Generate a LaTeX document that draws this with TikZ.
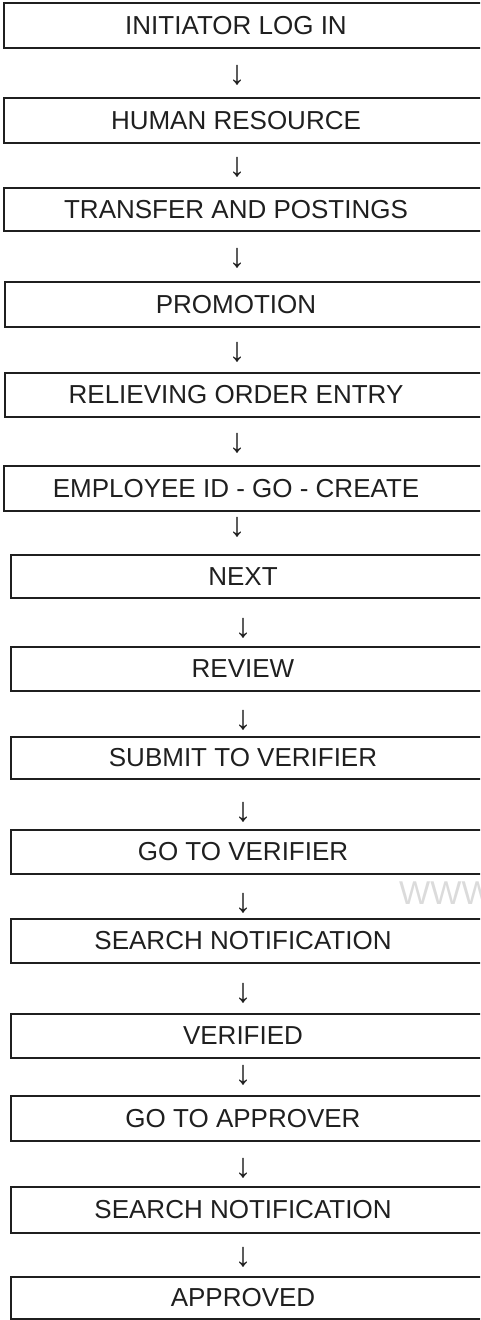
\documentclass[tikz,border=0pt]{standalone}
\usepackage{fontspec}
\setmainfont{Liberation Sans}
\newcommand\flowbox[6]{%
  \node[frame, minimum width={492-#2}, minimum height={#4-#3}] (#1) at (#2,#3) {};
  \node[boxtext] (#1t) at (#5,{(#3+#4)/2+1}) {#6};}
\begin{document}
\begin{tikzpicture}[x=1pt,y=-1pt,
  frame/.style={draw=black!88, line width=2.2pt, inner sep=0pt, anchor=north west},
  boxtext/.style={font=\fontsize{26}{30}\selectfont, text=black!88, inner sep=0pt},
  downsym/.style={font=\fontsize{34}{36}\selectfont, text=black!88, inner sep=0pt}]
\useasboundingbox (0,0) rectangle (480,1320);
\clip (0,0) rectangle (480,1320);
\node[anchor=west, inner sep=0pt, text=black!14, font=\fontsize{33}{36}\selectfont] (wm) at (399,893) {WWW};
\flowbox{b1}{3}{2}{47}{236}{INITIATOR LOG IN}
\flowbox{b2}{3}{97}{142}{236}{HUMAN RESOURCE}
\flowbox{b3}{3}{187}{230}{236}{TRANSFER AND POSTINGS}
\flowbox{b4}{4}{281}{326}{236}{PROMOTION}
\flowbox{b5}{4}{372}{416}{236}{RELIEVING ORDER ENTRY}
\flowbox{b6}{3}{465}{510}{236}{EMPLOYEE ID - GO - CREATE}
\flowbox{b7}{10}{554}{597}{243}{NEXT}
\flowbox{b8}{10}{646}{690}{243}{REVIEW}
\flowbox{b9}{10}{736}{778}{243}{SUBMIT TO VERIFIER}
\flowbox{b10}{10}{829}{873}{243}{GO TO VERIFIER}
\flowbox{b11}{10}{918}{962}{243}{SEARCH NOTIFICATION}
\flowbox{b12}{10}{1013}{1057}{243}{VERIFIED}
\flowbox{b13}{10}{1095}{1140}{243}{GO TO APPROVER}
\flowbox{b14}{10}{1186}{1232}{243}{SEARCH NOTIFICATION}
\flowbox{b15}{10}{1276}{1318}{243}{APPROVED}
\node[downsym] (a1) at (237,75) {↓};
\node[downsym] (a2) at (237,167) {↓};
\node[downsym] (a3) at (237,258) {↓};
\node[downsym] (a4) at (237,352) {↓};
\node[downsym] (a5) at (237,443) {↓};
\node[downsym] (a6) at (237,527) {↓};
\node[downsym] (a7) at (243,628) {↓};
\node[downsym] (a8) at (243,720) {↓};
\node[downsym] (a9) at (243,812) {↓};
\node[downsym] (a10) at (243,903) {↓};
\node[downsym] (a11) at (243,993) {↓};
\node[downsym] (a12) at (243,1075) {↓};
\node[downsym] (a13) at (243,1168) {↓};
\node[downsym] (a14) at (243,1257) {↓};
\end{tikzpicture}
\end{document}
